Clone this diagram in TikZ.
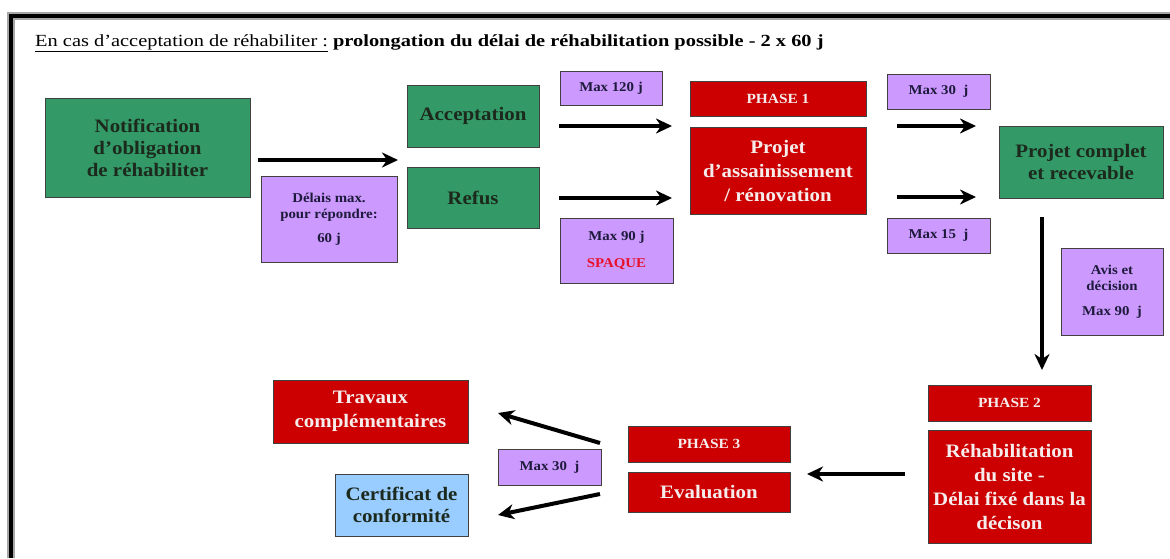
\documentclass[tikz,border=0pt]{standalone}
\usepackage{fontspec}
\setmainfont[FakeStretch=1.1]{Liberation Serif}
\newfontfamily\headfont[FakeStretch=1.2,Ligatures=TeX]{Liberation Serif}
\usetikzlibrary{arrows.meta}
\definecolor{boxgreen}{HTML}{339966}
\definecolor{boxred}{HTML}{CC0000}
\definecolor{boxlilac}{HTML}{CC99FF}
\definecolor{boxblue}{HTML}{99CCFF}
\definecolor{txtdark}{HTML}{1C2A1E}
\definecolor{txtnavy}{HTML}{1E1A3C}
\definecolor{txtlight}{HTML}{F6ECEC}
\definecolor{spaque}{HTML}{E8102A}
\tikzset{
  x=1pt, y=-1pt,
  box/.style={draw=black!75, line width=0.9pt, inner sep=0pt, align=center},
  greenbox/.style={box, fill=boxgreen, text=txtdark, font=\fontsize{19}{22}\selectfont\bfseries},
  redbox/.style={box, fill=boxred, text=txtlight, font=\fontsize{19}{24}\selectfont\bfseries},
  phasebox/.style={box, fill=boxred, text=txtlight, font=\fontsize{14}{16}\selectfont\bfseries},
  bluebox/.style={box, fill=boxblue, text=txtdark, font=\fontsize{19}{22}\selectfont\bfseries},
  lilac/.style={box, fill=boxlilac, text=txtnavy, font=\fontsize{13.5}{16}\selectfont\bfseries},
  arr/.style={line width=4pt, -{Stealth[length=16pt, width=15pt, inset=5pt]}},
  sz/.style args={#1x#2}{minimum width=#1pt, minimum height=#2pt},
}
\begin{document}
\begin{tikzpicture}
\useasboundingbox (0,0) rectangle (1170,558);
\fill[white] (0,0) rectangle (1170,558);

% outer frame (top and left edges)
\draw[gray!70, line width=7.5pt] (11,558) -- (11,16) -- (1170,16);
\draw[black, line width=4.5pt] (11,558) -- (11,16) -- (1170,16);

% heading
\node[anchor=base west, inner sep=0pt, font=\headfont\fontsize{17}{19}\selectfont, text=black] (title) at (35,46)
  {\underline{En cas d’acceptation de réhabiliter :}\ \textbf{prolongation du délai de réhabilitation possible - 2 x 60 j}};

% first row
\node[greenbox, sz=205x99] (notif) at (147.5,147.5) {Notification\\d’obligation\\de réhabiliter};
\node[greenbox, sz=132x62] (accept) at (473,116) {Acceptation};
\node[greenbox, sz=132x61] (refus) at (473,197.5) {Refus};
\node[lilac, sz=136x86] (delais) at (329,219) {Délais max.\\pour répondre:\\[8pt]60 j};
\node[lilac, sz=102x34] (max120) at (611,88) {Max 120 j};
\node[lilac, sz=113x65] (max90) at (616.5,250.5) {Max 90 j\\[11pt]\textcolor{spaque}{SPAQUE}};
\node[phasebox, sz=176x35] (phase1) at (778,98.5) {PHASE 1};
\node[redbox, sz=176x87] (projet) at (778,170.5) {Projet\\d’assainissement\\/ rénovation};
\node[lilac, sz=103x35] (max30a) at (938.5,91.5) {Max 30\ \ j};
\node[lilac, sz=103x35] (max15) at (938.5,235.5) {Max 15\ \ j};
\node[greenbox, sz=164x72] (complet) at (1081,162) {Projet complet\\et recevable};
\node[lilac, sz=102x87] (avis) at (1112,291.5) {Avis et\\décision\\[9pt]Max 90\ \ j};

% second row
\node[phasebox, sz=163x36] (phase2) at (1009.5,403) {PHASE 2};
\node[redbox, sz=163x113] (rehab) at (1009.5,486.5) {Réhabilitation\\du site -\\Délai fixé dans la\\décison};
\node[phasebox, sz=162x36] (phase3) at (709,444) {PHASE 3};
\node[redbox, sz=162x40] (eval) at (709,492) {Evaluation};
\node[redbox, sz=195x63] (travaux) at (370.5,411.5) {Travaux\\complémentaires};
\node[bluebox, sz=133x62] (certif) at (401.5,505) {Certificat de\\conformité};
\node[lilac, sz=103x36] (max30b) at (549.5,467) {Max 30\ \ j};

% arrow end points
\coordinate (n-out) at (258,160);
\coordinate (n-in) at (398,160);
\coordinate (acc-out) at (559,126);
\coordinate (acc-in) at (672,126);
\coordinate (ref-out) at (559,198);
\coordinate (ref-in) at (672,198);
\coordinate (p1a-out) at (897,126);
\coordinate (p1a-in) at (976,126);
\coordinate (p1b-out) at (897,197);
\coordinate (p1b-in) at (976,197);
\coordinate (cp-out) at (1042,217);
\coordinate (cp-in) at (1042,370);
\coordinate (rh-out) at (905,474);
\coordinate (rh-in) at (807,474);
\coordinate (ev-outa) at (600,443);
\coordinate (tr-in) at (498,413);
\coordinate (ev-outb) at (600,494);
\coordinate (ce-in) at (498,515);

\draw[arr] (n-out) -- (n-in);
\draw[arr] (acc-out) -- (acc-in);
\draw[arr] (ref-out) -- (ref-in);
\draw[arr] (p1a-out) -- (p1a-in);
\draw[arr] (p1b-out) -- (p1b-in);
\draw[arr] (cp-out) -- (cp-in);
\draw[arr] (rh-out) -- (rh-in);
\draw[arr] (ev-outa) -- (tr-in);
\draw[arr] (ev-outb) -- (ce-in);
\end{tikzpicture}
\end{document}
